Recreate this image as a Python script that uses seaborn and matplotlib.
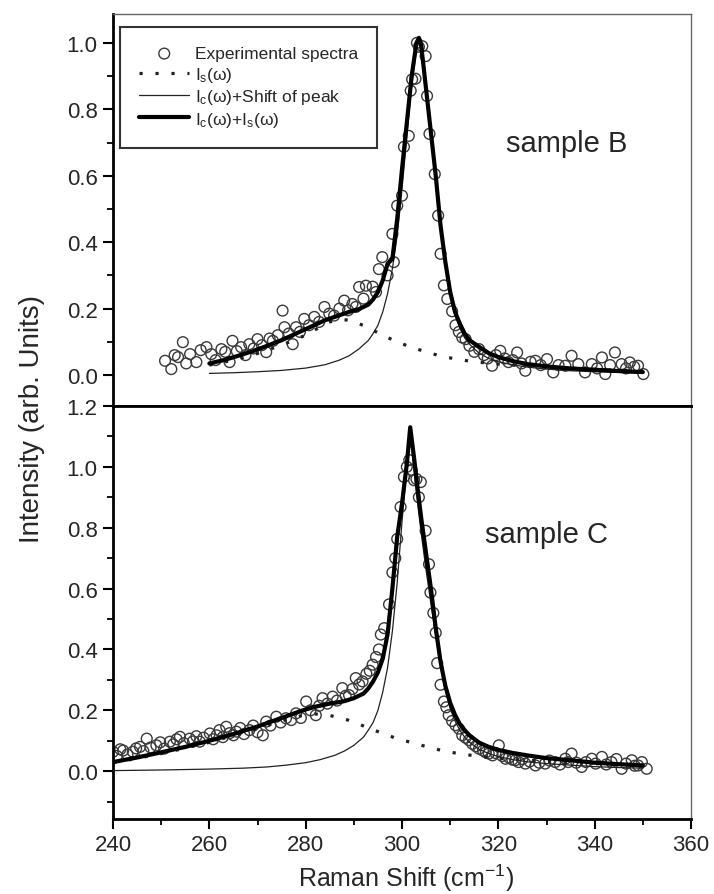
import matplotlib
matplotlib.use('Agg')

import matplotlib.pyplot as plt
from matplotlib.ticker import MultipleLocator
import seaborn as sns

# ---- sample B (top panel) ----
b_exp_x = [250.8, 252.1, 252.8, 253.5, 254.5, 255.2, 256.0, 257.3, 258.2, 259.4,
           260.4, 261.3, 262.5, 263.3, 264.2, 264.8, 265.7, 266.6, 267.5, 268.3,
           269.2, 270.0, 270.9, 271.8, 272.5, 273.2, 274.2, 275.2, 275.6, 276.5,
           277.3, 278.0, 278.8, 279.7, 280.7, 281.8, 282.8, 283.9, 284.9, 285.9,
           287.0, 288.0, 288.8, 289.7, 290.4, 291.1, 292.0, 292.5, 293.9, 294.6,
           295.2, 295.9, 297.0, 298.0, 298.3, 299.0, 300.0, 300.4, 301.4, 301.8,
           302.1, 302.8, 303.1, 303.5, 304.2, 304.9, 305.2, 305.7, 306.8, 307.5,
           308.0, 308.7, 309.4, 310.4, 311.1, 311.8, 312.5, 313.2, 314.0, 315.0,
           316.0, 317.0, 317.8, 318.7, 319.5, 320.4, 321.3, 322.1, 323.0, 323.9,
           324.8, 325.6, 326.7, 327.7, 328.8, 330.1, 331.4, 332.5, 333.9, 335.2,
           336.6, 338.0, 339.4, 340.5, 341.5, 342.2, 343.2, 344.2, 345.6, 346.5,
           347.3, 348.2, 349.0, 350.1]
b_exp_y = [0.043, 0.018, 0.060, 0.054, 0.099, 0.035, 0.063, 0.039, 0.075, 0.084,
           0.063, 0.045, 0.078, 0.070, 0.039, 0.103, 0.072, 0.084, 0.060, 0.093,
           0.080, 0.108, 0.090, 0.069, 0.110, 0.103, 0.120, 0.194, 0.144, 0.125,
           0.093, 0.144, 0.130, 0.169, 0.150, 0.175, 0.160, 0.205, 0.185, 0.179,
           0.200, 0.224, 0.195, 0.214, 0.205, 0.265, 0.230, 0.269, 0.266, 0.250,
           0.319, 0.355, 0.300, 0.425, 0.340, 0.510, 0.540, 0.687, 0.720, 0.856,
           0.890, 0.892, 1.000, 0.988, 0.990, 0.960, 0.840, 0.726, 0.605, 0.480,
           0.365, 0.270, 0.229, 0.192, 0.150, 0.130, 0.113, 0.108, 0.088, 0.070,
           0.078, 0.060, 0.050, 0.028, 0.060, 0.073, 0.050, 0.039, 0.045, 0.068,
           0.035, 0.013, 0.040, 0.043, 0.030, 0.048, 0.008, 0.030, 0.028, 0.058,
           0.033, 0.008, 0.033, 0.020, 0.053, 0.003, 0.030, 0.068, 0.033, 0.020,
           0.038, 0.025, 0.028, 0.003]

b_fit_x = [260, 263, 266, 269, 272, 275, 278, 281, 284, 287, 289, 291, 293, 294,
           295, 296, 297, 298, 299, 300, 301, 302, 303, 303.5, 304, 305, 306, 307,
           308, 309, 310, 311, 312, 313, 314, 316, 318, 320, 323, 326, 330, 335,
           340, 345, 350]
b_fit_y = [0.035, 0.045, 0.058, 0.072, 0.088, 0.105, 0.125, 0.145, 0.165, 0.180,
           0.190, 0.198, 0.212, 0.228, 0.250, 0.285, 0.335, 0.350, 0.470, 0.620,
           0.760, 0.900, 1.000, 1.015, 0.990, 0.860, 0.730, 0.600, 0.450, 0.340,
           0.250, 0.190, 0.155, 0.125, 0.105, 0.085, 0.066, 0.054, 0.042, 0.033,
           0.026, 0.020, 0.016, 0.012, 0.009]

b_peak_x = [260, 265, 270, 275, 280, 284, 287, 289, 291, 293, 294, 295, 296, 297,
            298, 299, 300, 301, 302, 303, 303.5, 304, 305, 306, 307, 308, 309, 310,
            311, 312, 313, 314, 316, 318, 320, 323, 326, 330, 335, 340, 345, 350]
b_peak_y = [0.005, 0.007, 0.010, 0.014, 0.021, 0.031, 0.045, 0.058, 0.078, 0.104,
            0.125, 0.150, 0.190, 0.245, 0.320, 0.420, 0.560, 0.720, 0.870, 0.980,
            1.005, 0.975, 0.850, 0.715, 0.580, 0.435, 0.325, 0.240, 0.180, 0.142,
            0.112, 0.093, 0.066, 0.050, 0.040, 0.031, 0.024, 0.018, 0.013, 0.010,
            0.008, 0.006]

b_is_x = [260, 265, 270, 275, 280, 283, 285, 287, 289, 291, 293, 295, 297, 299,
          302, 305, 308, 311, 314, 317, 320, 325, 330, 335, 340, 345, 350]
b_is_y = [0.030, 0.045, 0.065, 0.090, 0.120, 0.145, 0.160, 0.168, 0.165, 0.155,
          0.143, 0.127, 0.113, 0.100, 0.083, 0.070, 0.057, 0.049, 0.042, 0.037,
          0.033, 0.028, 0.024, 0.020, 0.017, 0.015, 0.013]

# ---- sample C (bottom panel) ----
c_exp_x = [240.0, 240.8, 241.5, 242.1, 243.0, 244.1, 244.8, 245.6, 246.3, 247.0,
           247.8, 249.0, 249.8, 250.6, 251.8, 252.5, 253.2, 253.9, 254.7, 255.9,
           256.6, 257.3, 258.0, 258.8, 260.1, 260.8, 261.5, 262.1, 262.8, 263.5,
           264.2, 265.0, 265.6, 266.4, 267.2, 268.3, 269.1, 270.0, 271.1, 271.8,
           272.7, 273.9, 274.8, 275.9, 277.0, 278.0, 279.0, 280.1, 281.0, 282.1,
           282.8, 283.5, 284.5, 285.6, 286.5, 287.6, 288.3, 289.0, 289.7, 290.4,
           291.1, 291.8, 292.6, 293.3, 293.9, 294.6, 295.2, 295.6, 296.3, 297.3,
           298.0, 298.6, 299.0, 299.7, 300.4, 301.0, 301.5, 302.0, 302.5, 303.0,
           303.5, 303.9, 304.9, 305.6, 305.9, 306.5, 307.0, 307.3, 308.0, 308.7,
           309.2, 309.7, 310.4, 311.1, 311.8, 312.5, 313.2, 313.9, 314.6, 315.3,
           316.0, 316.8, 317.4, 318.0, 318.8, 319.4, 320.1, 320.8, 321.5, 322.2,
           322.9, 323.5, 324.2, 325.0, 325.6, 326.5, 327.7, 328.5, 329.7, 330.6,
           331.8, 332.8, 333.9, 334.5, 335.2, 336.2, 337.3, 338.2, 339.4, 340.2,
           341.5, 342.4, 343.5, 344.5, 345.6, 346.5, 347.7, 348.3, 349.0, 349.8,
           350.8]
c_exp_y = [0.064, 0.050, 0.072, 0.068, 0.055, 0.064, 0.075, 0.080, 0.066, 0.107,
           0.078, 0.085, 0.095, 0.074, 0.097, 0.088, 0.105, 0.113, 0.092, 0.107,
           0.098, 0.115, 0.097, 0.110, 0.124, 0.105, 0.118, 0.135, 0.112, 0.146,
           0.125, 0.118, 0.130, 0.142, 0.122, 0.135, 0.150, 0.128, 0.118, 0.163,
           0.150, 0.179, 0.160, 0.174, 0.168, 0.190, 0.175, 0.229, 0.200, 0.184,
           0.215, 0.240, 0.222, 0.245, 0.232, 0.273, 0.248, 0.250, 0.270, 0.306,
           0.285, 0.295, 0.320, 0.330, 0.350, 0.375, 0.400, 0.449, 0.470, 0.548,
           0.653, 0.700, 0.763, 0.868, 0.967, 1.000, 1.022, 0.990, 0.956, 0.960,
           0.900, 0.950, 0.790, 0.680, 0.587, 0.520, 0.455, 0.355, 0.284, 0.229,
           0.210, 0.184, 0.165, 0.151, 0.140, 0.118, 0.110, 0.102, 0.090, 0.082,
           0.074, 0.068, 0.062, 0.058, 0.052, 0.060, 0.085, 0.050, 0.041, 0.045,
           0.038, 0.036, 0.030, 0.040, 0.025, 0.032, 0.019, 0.028, 0.025, 0.035,
           0.030, 0.022, 0.041, 0.030, 0.058, 0.028, 0.014, 0.030, 0.041, 0.025,
           0.047, 0.022, 0.030, 0.040, 0.008, 0.025, 0.036, 0.018, 0.019, 0.030,
           0.008]

c_fit_x = [240, 245, 250, 255, 260, 265, 270, 275, 279, 282, 285, 288, 290, 292,
           293, 294, 295, 296, 297, 298, 299, 300, 301, 301.7, 302.5, 303, 304, 305,
           306, 307, 308, 309, 310, 311, 312, 313, 314, 316, 318, 320, 323, 326,
           330, 335, 340, 345, 350]
c_fit_y = [0.030, 0.045, 0.062, 0.080, 0.100, 0.122, 0.147, 0.175, 0.198, 0.212,
           0.222, 0.230, 0.240, 0.255, 0.272, 0.295, 0.325, 0.370, 0.450, 0.600,
           0.770, 0.880, 1.010, 1.130, 1.030, 0.960, 0.830, 0.715, 0.600, 0.470,
           0.360, 0.280, 0.225, 0.185, 0.155, 0.135, 0.118, 0.094, 0.080, 0.070,
           0.060, 0.052, 0.043, 0.036, 0.028, 0.023, 0.019]

c_peak_x = [240, 250, 260, 267, 272, 276, 280, 283, 286, 288, 290, 292, 293, 294,
            295, 296, 297, 298, 299, 300, 301, 301.7, 302.5, 303, 304, 305, 306, 307,
            308, 309, 310, 311, 312, 313, 314, 316, 318, 320, 323, 326, 330, 335,
            340, 345, 350]
c_peak_y = [0.002, 0.004, 0.007, 0.010, 0.014, 0.020, 0.028, 0.038, 0.052, 0.066,
            0.085, 0.112, 0.135, 0.160, 0.200, 0.260, 0.340, 0.460, 0.620, 0.820,
            1.000, 1.110, 0.990, 0.910, 0.780, 0.660, 0.550, 0.445, 0.345, 0.265,
            0.205, 0.165, 0.135, 0.112, 0.095, 0.072, 0.058, 0.048, 0.038, 0.031,
            0.025, 0.020, 0.015, 0.012, 0.010]

c_is_x = [240, 245, 250, 255, 260, 265, 270, 275, 279, 282, 285, 287, 289, 291,
          293, 295, 297, 299, 302, 305, 308, 311, 314, 317, 320, 325, 330, 335,
          340, 345, 350]
c_is_y = [0.028, 0.042, 0.058, 0.076, 0.095, 0.117, 0.140, 0.165, 0.182, 0.188,
          0.183, 0.176, 0.167, 0.155, 0.142, 0.130, 0.118, 0.107, 0.094, 0.081,
          0.069, 0.060, 0.053, 0.047, 0.043, 0.037, 0.032, 0.028, 0.025, 0.022,
          0.020]

labels = ['Experimental spectra',
          r'I$_{s}$($\omega$)',
          r'I$_{c}$($\omega$)+Shift of peak',
          r'I$_{c}$($\omega$)+I$_{s}$($\omega$)']

sns.set_style('ticks')
plt.rcParams['font.family'] = ['Liberation Sans', 'DejaVu Sans']
plt.rcParams['mathtext.fontset'] = 'custom'
plt.rcParams['mathtext.rm'] = 'Liberation Sans'
plt.rcParams['mathtext.it'] = 'Liberation Sans'

fig = plt.figure(figsize=(7.14, 8.95), dpi=100)
ax_b = fig.add_axes([0.1583, 0.5453, 0.8095, 0.438])
ax_c = fig.add_axes([0.1583, 0.0838, 0.8095, 0.4615])


def draw_panel(ax, ex, ey, fx, fy, px, py, sx, sy):
    sns.scatterplot(x=ex, y=ey, ax=ax, marker='o', s=60, facecolor='none',
                    edgecolor='#3a3a3a', linewidth=1.0, label=labels[0], zorder=2)
    sns.lineplot(x=sx, y=sy, ax=ax, color='#222222', lw=2.3,
                 linestyle=(0, (1, 4)), estimator=None, label=labels[1], zorder=3)
    sns.lineplot(x=px, y=py, ax=ax, color='#222222', lw=0.9,
                 estimator=None, label=labels[2], zorder=3)
    sns.lineplot(x=fx, y=fy, ax=ax, color='black', lw=3.0,
                 estimator=None, label=labels[3], zorder=4)
    ax.set_xlim(240, 360)
    ax.xaxis.set_major_locator(MultipleLocator(20))
    ax.xaxis.set_minor_locator(MultipleLocator(10))
    ax.yaxis.set_major_locator(MultipleLocator(0.2))
    ax.yaxis.set_minor_locator(MultipleLocator(0.1))
    ax.tick_params(axis='both', which='major', direction='out', length=7,
                   width=1.5, labelsize=16, color='black', pad=4)
    ax.tick_params(axis='both', which='minor', direction='out', length=4,
                   width=1.3, color='black')
    ax.tick_params(right=False, top=False)
    ax.spines['left'].set_linewidth(2.0)
    ax.spines['bottom'].set_linewidth(2.0)
    ax.spines['right'].set_linewidth(1.0)
    ax.spines['top'].set_linewidth(1.0)
    ax.spines['left'].set_color('black')
    ax.spines['bottom'].set_color('black')
    ax.spines['right'].set_color('#666666')
    ax.spines['top'].set_color('#666666')
    ax.set_xlabel('')
    ax.set_ylabel('')


draw_panel(ax_b, b_exp_x, b_exp_y, b_fit_x, b_fit_y, b_peak_x, b_peak_y, b_is_x, b_is_y)
draw_panel(ax_c, c_exp_x, c_exp_y, c_fit_x, c_fit_y, c_peak_x, c_peak_y, c_is_x, c_is_y)

ax_b.set_ylim(-0.093, 1.087)
ax_b.set_yticks([0.0, 0.2, 0.4, 0.6, 0.8, 1.0])
ax_b.set_yticklabels(['0.0', '0.2', '0.4', '0.6', '0.8', '1.0'])
ax_b.tick_params(axis='x', which='both', bottom=False, labelbottom=False)

ax_c.set_ylim(-0.157, 1.2)
ax_c.set_yticks([0.0, 0.2, 0.4, 0.6, 0.8, 1.0, 1.2])
ax_c.set_yticklabels(['0.0', '0.2', '0.4', '0.6', '0.8', '1.0', '1.2'])
ax_c.spines['top'].set_color('black')
ax_c.spines['top'].set_linewidth(2.0)
ax_c.set_xticks([240, 260, 280, 300, 320, 340, 360])
ax_c.set_xticklabels(['240', '260', '280', '300', '320', '340', '360'])

ax_c.get_legend().remove()
leg = ax_b.legend(loc='upper left', bbox_to_anchor=(0.012, 0.967), borderaxespad=0,
                  fontsize=12.5, frameon=True, fancybox=False, edgecolor='#333333',
                  handlelength=2.9, handletextpad=0.3, labelspacing=0.2,
                  borderpad=1.1, scatterpoints=1)
leg.get_frame().set_linewidth(1.5)
leg.get_frame().set_alpha(None)

ax_b.text(334.2, 0.70, 'sample B', fontsize=21, ha='center', va='center')
ax_c.text(330.1, 0.78, 'sample C', fontsize=21, ha='center', va='center')

fig.text(0.045, 0.532, 'Intensity (arb. Units)', rotation=90, fontsize=20,
         ha='center', va='center')
fig.text(0.569, 0.019, r'Raman Shift (cm$^{-1}$)', fontsize=18,
         ha='center', va='center')

plt.savefig('out.png', dpi=100)
plt.close()
